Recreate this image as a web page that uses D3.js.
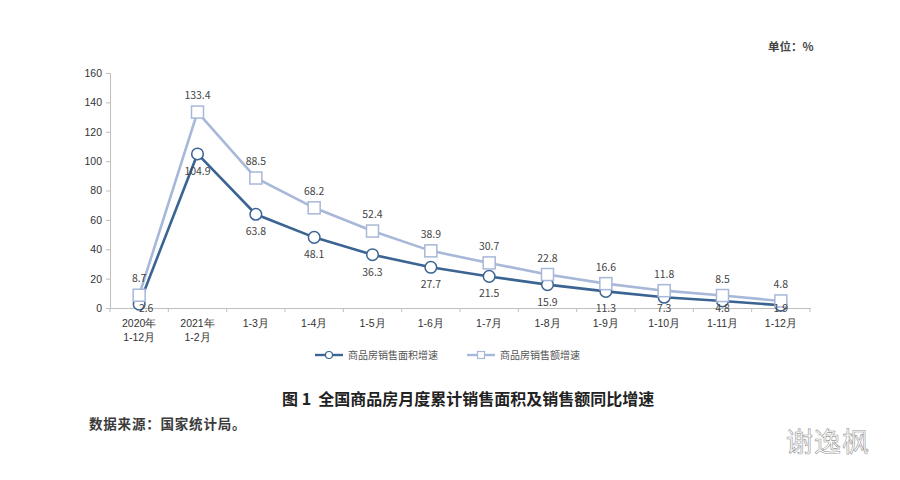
<!DOCTYPE html>
<html><head><meta charset="utf-8">
<script src="https://cdn.jsdelivr.net/npm/d3@7/dist/d3.min.js"></script>
<style>
body{margin:0;background:#fff;}
svg{display:block;font-family:"Noto Sans CJK SC","Noto Sans",sans-serif;}
</style></head>
<body><svg id="c" width="900" height="480"></svg>
<script>
const categories = ["2020年\n1-12月","2021年\n1-2月","1-3月","1-4月","1-5月","1-6月","1-7月","1-8月","1-9月","1-10月","1-11月","1-12月"];
const areaGrowth = [2.6,104.9,63.8,48.1,36.3,27.7,21.5,15.9,11.3,7.3,4.8,1.9];
const salesGrowth = [8.7,133.4,88.5,68.2,52.4,38.9,30.7,22.8,16.6,11.8,8.5,4.8];
const seriesNames = ["商品房销售面积增速","商品房销售额增速"];
const yTicks = [0,20,40,60,80,100,120,140,160];

const svg = d3.select("#c");
const x = d3.scaleBand().domain(categories).range([110,810]);
const y = d3.scaleLinear().domain([0,160]).range([308,73]);
const cx = d => x(d) + x.bandwidth()/2;
const dark = "#3b6493", light = "#a7b8d8";

// y axis
const ya = svg.append("g").attr("transform","translate(110,0)")
  .call(d3.axisLeft(y).tickValues(yTicks).tickSize(4).tickPadding(4));
ya.select(".domain").attr("stroke","#bfbfbf");
ya.selectAll(".tick line").attr("stroke","#bfbfbf");
ya.selectAll("text").attr("font-size",10.5).attr("fill","#333");

// x axis
const xa = svg.append("g").attr("transform","translate(0,308)")
  .call(d3.axisBottom(x).tickSize(0).tickFormat(""));
xa.select(".domain").attr("stroke","#bfbfbf");
const bounds = categories.map(c=>x(c)).concat([810]);
svg.append("g").selectAll("line").data(bounds).join("line")
  .attr("x1",d=>d).attr("x2",d=>d).attr("y1",308).attr("y2",312).attr("stroke","#bfbfbf");
xa.selectAll(".tick").each(function(d){
  const t = d3.select(this).append("text").attr("fill","#333").attr("font-size",10.5).attr("text-anchor","middle");
  d.split("\n").forEach((s,i)=>t.append("tspan").attr("x",0).attr("y",19+i*14).text(s));
});

const line = d3.line().x((d,i)=>cx(categories[i])).y(d=>y(d));

// light series
svg.append("path").datum(salesGrowth).attr("d",line).attr("fill","none").attr("stroke",light).attr("stroke-width",2.6);
// dark series
svg.append("path").datum(areaGrowth).attr("d",line).attr("fill","none").attr("stroke",dark).attr("stroke-width",2.6);

svg.append("g").selectAll("circle").data(areaGrowth).join("circle")
  .attr("cx",(d,i)=>cx(categories[i])).attr("cy",d=>y(d)).attr("r",5.8)
  .attr("fill","#fff").attr("stroke",dark).attr("stroke-width",1.5);
svg.append("g").selectAll("rect").data(salesGrowth).join("rect")
  .attr("x",(d,i)=>cx(categories[i])-6).attr("y",d=>y(d)-6).attr("width",12).attr("height",12)
  .attr("fill","#fff").attr("stroke",light).attr("stroke-width",1.5);

// labels
svg.append("g").selectAll("text").data(salesGrowth).join("text")
  .attr("x",(d,i)=>cx(categories[i])).attr("y",d=>y(d)-13)
  .attr("text-anchor","middle").attr("font-size",10.5).attr("fill","#444").text(d=>d.toFixed(1));
svg.append("g").selectAll("text").data(areaGrowth).join("text")
  .attr("x",(d,i)=>cx(categories[i])+(i===0?7:0)).attr("y",d=>Math.min(y(d)+21,312))
  .attr("text-anchor","middle").attr("font-size",10.5).attr("fill","#444").text(d=>d.toFixed(1));

// legend
const lg = svg.append("g");
[[315,dark,"c"],[467,light,"s"]].forEach((p,i)=>{
  const g = lg.append("g").attr("transform",`translate(${p[0]},355)`);
  g.append("line").attr("x1",0).attr("x2",28).attr("stroke",p[1]).attr("stroke-width",2.4);
  if(p[2]==="c") g.append("circle").attr("cx",14).attr("r",3.5).attr("fill","#fff").attr("stroke",p[1]).attr("stroke-width",1.2);
  else g.append("rect").attr("x",10.5).attr("y",-3.5).attr("width",7).attr("height",7).attr("fill","#fff").attr("stroke",p[1]).attr("stroke-width",1.2);
  g.append("text").attr("x",33).attr("y",4).attr("font-size",10).attr("fill","#555").text(seriesNames[i]);
});

// unit
svg.append("text").attr("x",768).attr("y",51).attr("font-size",11.5).attr("fill","#444").attr("font-weight","bold").text("单位：%");

// title
svg.append("text").attr("x",282).attr("y",405).attr("font-size",16).attr("font-weight","bold").attr("fill","#222")
  .attr("xml:space","preserve").text("图 1  全国商品房月度累计销售面积及销售额同比增速");

// source
svg.append("text").attr("x",89).attr("y",429).attr("font-size",13.5).attr("letter-spacing",0.8).attr("fill","#3a3a3a").attr("font-weight","bold").text("数据来源：国家统计局。");

// watermark
svg.append("text").attr("x",786).attr("y",452).attr("font-size",27).attr("fill","#fff")
  .attr("stroke","#999").attr("stroke-width",0.6).attr("letter-spacing",1).text("谢逸枫");
</script></body></html>
